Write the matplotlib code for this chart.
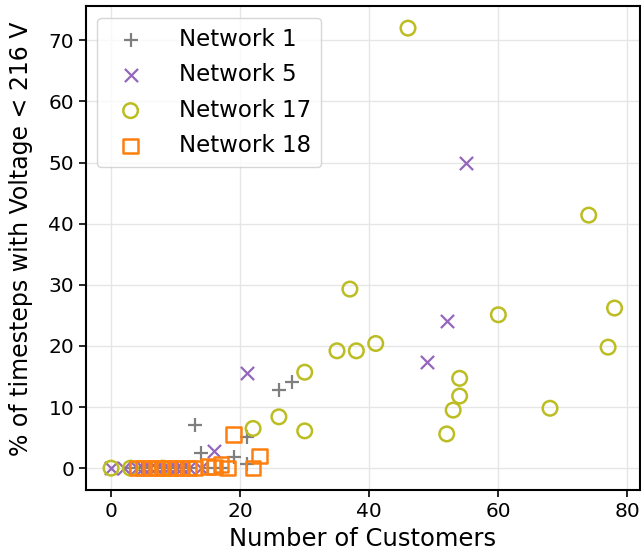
import matplotlib
matplotlib.use("Agg")
import matplotlib.pyplot as plt

plt.rcParams["font.family"] = ["DejaVu Sans"]

# Network 1
n1_customers = [3, 5, 8, 10, 12, 13, 14, 15, 17, 19, 21, 21, 26, 28]
n1_pct = [0, 0, 0, 0, 0, 7.1, 2.4, 0, 0, 1.8, 5.1, 0.7, 12.8, 14.1]

# Network 5
n5_customers = [0, 2, 4, 5, 6, 7, 8, 9, 10, 11, 12, 14, 16, 21, 49, 52, 55]
n5_pct = [0, 0, 0, 0, 0, 0, 0, 0, 0, 0, 0, 0, 2.8, 15.5, 17.4, 24.0, 49.9]

# Network 17
n17_customers = [0, 3, 8, 22, 26, 30, 30, 35, 37, 38, 41, 46, 52, 53, 54, 54,
                 60, 68, 74, 77, 78]
n17_pct = [0, 0, 0, 6.5, 8.4, 15.7, 6.1, 19.2, 29.3, 19.2, 20.4, 72.0, 5.6,
           9.5, 14.7, 11.8, 25.1, 9.8, 41.4, 19.8, 26.2]

# Network 18
n18_customers = [4, 5, 6, 7, 8, 9, 10, 11, 12, 13, 15, 16, 17, 18, 19, 22, 23]
n18_pct = [0, 0, 0, 0, 0, 0, 0, 0, 0, 0, 0.3, 0.2, 0.6, 0, 5.5, 0, 2.0]

fig = plt.figure(figsize=(6.41, 5.57), dpi=100)
ax = fig.add_axes([0.134, 0.120, 0.864, 0.869])

ax.grid(True, color="#e6e6e6", linewidth=1.0, zorder=0)
ax.set_axisbelow(True)

ax.scatter(n1_customers, n1_pct, marker="+", s=110, color="#7f7f7f",
           linewidths=1.6, label="Network 1", zorder=3)
ax.scatter(n5_customers, n5_pct, marker="x", s=90, color="#9467bd",
           linewidths=1.6, label="Network 5", zorder=3)
ax.scatter(n17_customers, n17_pct, marker="o", s=110, facecolors="none",
           edgecolors="#bcbd22", linewidths=1.8, label="Network 17", zorder=3)
ax.scatter(n18_customers, n18_pct, marker="s", s=110, facecolors="none",
           edgecolors="#ff7f0e", linewidths=1.8, label="Network 18", zorder=3)

ax.set_xticks([0, 20, 40, 60, 80])
ax.set_yticks([0, 10, 20, 30, 40, 50, 60, 70])
ax.tick_params(labelsize=14.5, length=5, width=1.2)
for sp in ax.spines.values():
    sp.set_linewidth(1.5)
    sp.set_color("black")

ax.set_xlabel("Number of Customers", fontsize=17.5)
ax.set_ylabel("% of timesteps with Voltage < 216 V", fontsize=17)
ax.yaxis.set_label_coords(-0.095, 0.52)

ax.legend(loc="upper left", fontsize=16.5, handletextpad=1.1,
          borderpad=0.45, labelspacing=0.54, framealpha=0.8)

fig.savefig("out.png", dpi=100)
